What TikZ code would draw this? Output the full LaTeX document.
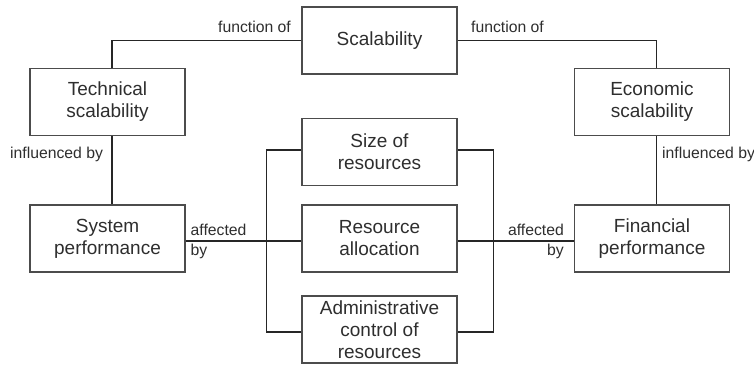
\documentclass[tikz,border=0pt]{standalone}
\usepackage{fontspec}
\setmainfont{Liberation Sans}
\begin{document}
\begin{tikzpicture}[x=1pt,y=-1pt,
  box/.style={draw=black!70, line width=1.1pt, minimum width=155pt, minimum height=67pt,
    inner sep=0pt, align=center, text=black!82,
    font=\fontsize{19}{22}\selectfont},
  lbl/.style={inner sep=0pt, text=black!82, font=\fontsize{15.75}{20}\selectfont},
  link/.style={draw=black!85, line width=1.1pt}]
\useasboundingbox (0,0) rectangle (754,364);
% concept boxes
\node[box] (scal) at (379.5,40.5) {Scalability};
\node[box] (tech) at (107.5,102) {Technical\\scalability};
\node[box] (econ) at (652,102) {Economic\\scalability};
\node[box] (size) at (379.5,152) {Size of\\resources};
\node[box] (alloc) at (379.5,238.5) {Resource\\allocation};
\node[box] (admin) at (379.5,329.5) {Administrative\\control of\\resources};
\node[box] (sysp) at (107.5,238.5) {System\\performance};
\node[box] (finp) at (652,238.5) {Financial\\performance};
% connectors
\draw[link] (scal.west) -| ([xshift=4.5pt]tech.north);
\draw[link] (scal.east) -| ([xshift=4.5pt]econ.north);
\draw[link] ([xshift=4.5pt]tech.south) -- ([xshift=4.5pt]sysp.north);
\draw[link] ([xshift=4.5pt]econ.south) -- ([xshift=4.5pt]finp.north);
\draw[link] ([yshift=-2.5pt]sysp.east) -- ([yshift=-2.5pt]alloc.west);
\draw[link] ([yshift=-2.5pt]alloc.east) -- ([yshift=-2.5pt]finp.west);
\draw[link] ([yshift=2pt]size.west) -- ++(-35,0) |- ([yshift=-2.5pt]admin.west);
\draw[link] ([yshift=2pt]size.east) -- ++(36,0) |- ([yshift=-2.5pt]admin.east);
% connector labels
\node[lbl] (fl) at (254.5,27) {function of};
\node[lbl] (fr) at (507.5,27) {function of};
\node[lbl, anchor=west] (il) at (10,154) {influenced by};
\node[lbl, anchor=west] (ir) at (662,154) {influenced by};
\node[lbl, anchor=west, align=left] (al) at (190.5,241) {affected\\by};
\node[lbl, anchor=east, align=right] (ar) at (564,241) {affected\\by};
\end{tikzpicture}
\end{document}
